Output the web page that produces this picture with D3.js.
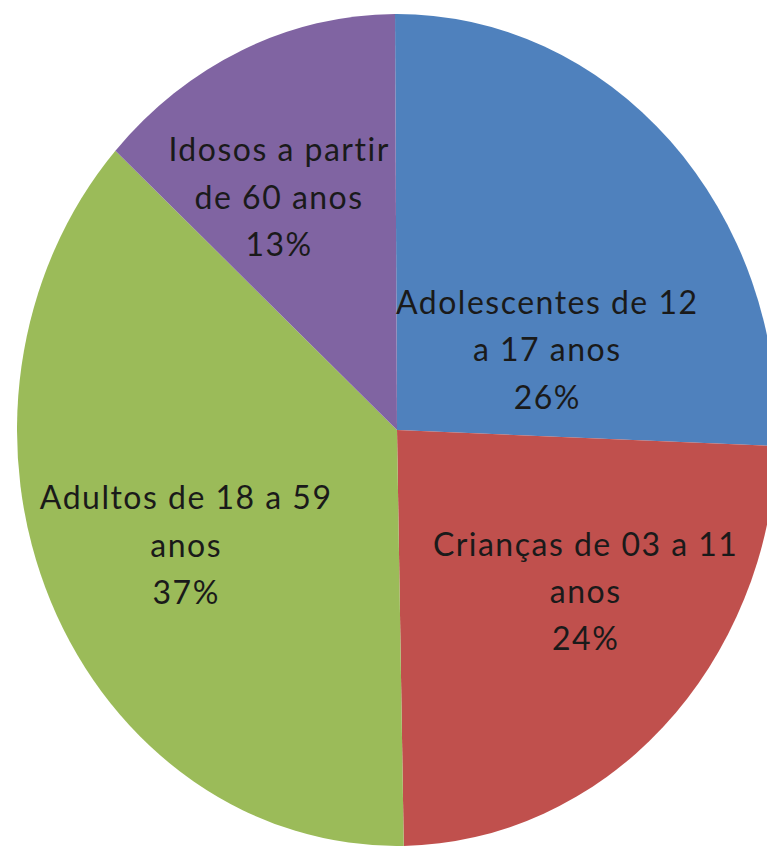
<!DOCTYPE html>
<html>
<head>
<meta charset="utf-8">
<script src="https://cdn.jsdelivr.net/npm/d3@7"></script>
<style>
  body { margin: 0; background: #fff; }
  svg { display: block; }
</style>
</head>
<body>
<script>
// dados do grafico
var categorias = [
    ["Adolescentes de 12", "a 17 anos"],
    ["Crianças de 03 a 11", "anos"],
    ["Adultos de 18 a 59", "anos"],
    ["Idosos a partir", "de 60 anos"]
];
var valores = [25.7, 24.1, 37.0, 13.2];   // percentuais (rotulos arredondados)
var cores = ["#4f81bd", "#c0504d", "#9bbb59", "#8064a2"];

var width = 767, height = 846;
var cx = 397, cy = 430;   // centro da pizza
var rx = 380, ry = 416;   // a imagem original esta esticada na vertical
var R = 400;

// posicao dos rotulos: angulo (graus) e fracao do raio
var rotuloAng = [64, 128, 243.5, 331];
var rotuloRaio = [0.44, 0.63, 0.62, 0.64];

var svg = d3.select("body").append("svg")
    .attr("width", width)
    .attr("height", height);

var inicio = -0.3 * Math.PI / 180;
var pie = d3.pie().sort(null)
    .startAngle(inicio).endAngle(inicio + 2 * Math.PI)
    .value(function(d){ return d; });
var arc = d3.arc().innerRadius(0).outerRadius(R);

var g = svg.append("g")
    .attr("transform", "translate(" + cx + "," + cy + ") scale(" + (rx / R) + "," + (ry / R) + ")");

g.selectAll("path").data(pie(valores)).enter().append("path")
    .attr("d", arc)
    .attr("fill", function(d, i){ return cores[i]; });

// rotulos
var rot = svg.selectAll("g.rot").data(pie(valores)).enter().append("g")
    .attr("class", "rot")
    .attr("transform", function(d, i){
        var a = rotuloAng[i] * Math.PI / 180;
        var x = cx + Math.sin(a) * rotuloRaio[i] * rx;
        var y = cy - Math.cos(a) * rotuloRaio[i] * ry;
        return "translate(" + x + "," + y + ") scale(1,1.05)";
    });

rot.each(function(d, i){
    var linhas = categorias[i].concat([Math.round(valores[i]) + "%"]);
    var t = d3.select(this).append("text")
        .attr("text-anchor", "middle")
        .style("font-family", "Lato, 'Open Sans', sans-serif")
        .style("font-size", "32px")
        .style("letter-spacing", "1.5px")
        .attr("fill", "#1a1a1a");
    linhas.forEach(function(l, k){
        t.append("tspan")
            .attr("x", 0)
            .attr("y", (k - 1) * 45 + 11)
            .text(l);
    });
});
</script>
</body>
</html>
